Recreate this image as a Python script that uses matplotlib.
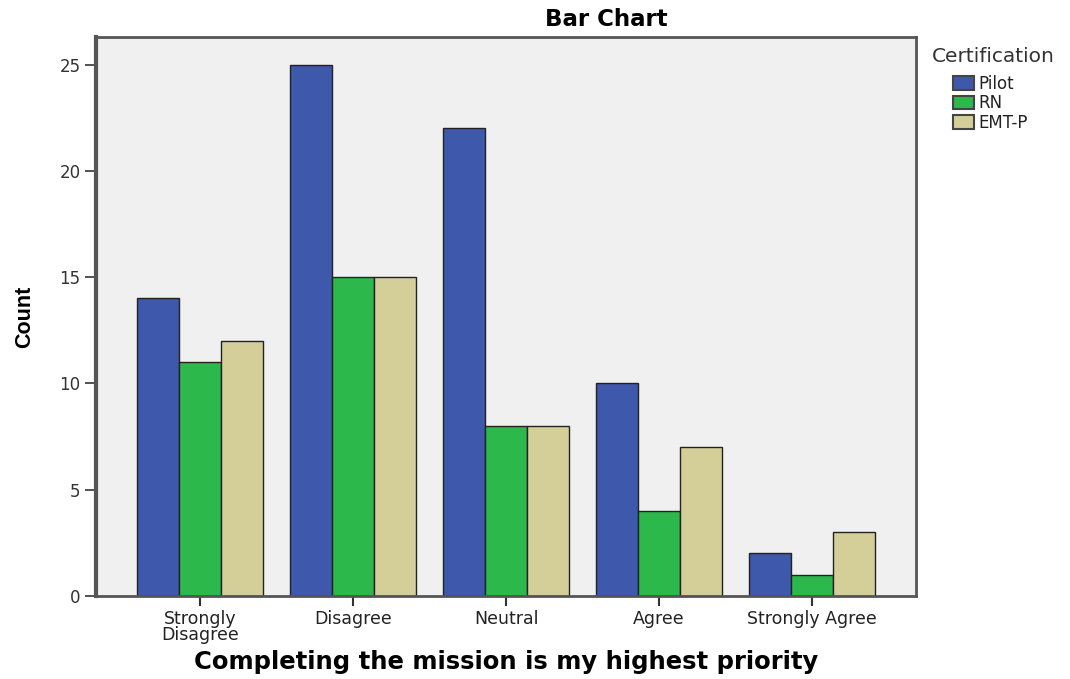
import matplotlib
matplotlib.use("Agg")
import matplotlib.pyplot as plt
import numpy as np
from matplotlib.patches import Patch

plt.rcParams['font.family'] = ['DejaVu Sans']

categories = ["Strongly\nDisagree", "Disagree", "Neutral", "Agree", "Strongly Agree"]
pilot = [14, 25, 22, 10, 2]
rn = [11, 15, 8, 4, 1]
emtp = [12, 15, 8, 7, 3]
series_names = ["Pilot", "RN", "EMT-P"]
colors = ["#3e58ac", "#2cb84a", "#d4cf98"]

W, H = 1070, 679
fig = plt.figure(figsize=(W / 100, H / 100), dpi=100)
ax = fig.add_axes([96 / W, 1 - 596 / H, 820 / W, 559 / H])
ax.set_facecolor("#f0f0f0")

x = np.arange(len(categories))
w = 0.275
for i, (vals, c) in enumerate(zip([pilot, rn, emtp], colors)):
    ax.bar(x + (i - 1) * w, vals, width=w, color=c, edgecolor="#222222", linewidth=1.0)

ax.set_xlim(-0.68, 4.68)
ax.set_ylim(0, 26.3)
ax.set_yticks([0, 5, 10, 15, 20, 25])
ax.set_xticks(x)
ax.set_xticklabels(categories, fontsize=12.5, linespacing=0.9, color="#222222")
ax.tick_params(axis='y', labelsize=12, labelcolor="#333333", length=8, width=1.2,
               color="#333333", pad=3)
ax.tick_params(axis='x', length=7, width=1.5, color="#333333", pad=3)
for s in ax.spines.values():
    s.set_color("#555555")
    s.set_linewidth(2)
ax.spines['left'].set_linewidth(3)

fig.text(606 / W, 1 - 19 / H, "Bar Chart", fontsize=16.5, fontweight="bold",
         ha="center", va="center")
ax.set_xlabel("Completing the mission is my highest priority", fontsize=17.5,
              fontweight="bold")
ax.xaxis.set_label_coords(0.5, (596 - 662) / 559)
ax.xaxis.label.set_va("center")
ax.set_ylabel("Count", fontsize=15.5, fontweight="bold", family="Liberation Sans")
ax.yaxis.set_label_coords((25 - 96) / 820, 0.5)
ax.yaxis.label.set_va("center")

fig.text(932 / W, 1 - 57 / H, "Certification", fontsize=14.5, color="#333333",
         ha="left", va="center")
handles = [Patch(facecolor=c, edgecolor="#444444", linewidth=1.5, label=n)
           for n, c in zip(series_names, colors)]
leg = fig.legend(handles=handles, loc="upper left",
                 bbox_to_anchor=(953 / W, 1 - 75 / H), frameon=False, fontsize=12,
                 handlelength=1.25, handleheight=0.875, handletextpad=0.3,
                 labelspacing=0.08, borderpad=0, borderaxespad=0)
for t in leg.get_texts():
    t.set_color("#222222")

fig.savefig("out.png", dpi=100)
